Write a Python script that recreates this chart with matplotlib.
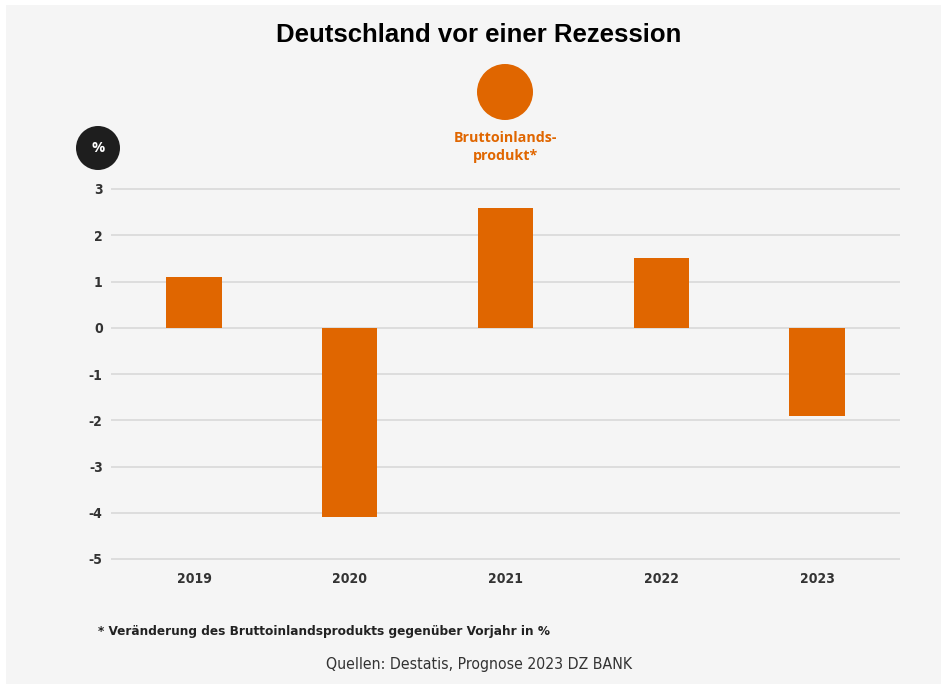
import matplotlib.pyplot as plt
from matplotlib.patches import Rectangle, Ellipse

years = ["2019", "2020", "2021", "2022", "2023"]
bip = [1.1, -4.1, 2.6, 1.5, -1.9]
yticks = [3, 2, 1, 0, -1, -2, -3, -4, -5]

orange = "#e06600"
bg = "#f5f5f5"
W, H = 941, 687
cond = dict(family="DejaVu Sans", fontstretch="condensed")

fig = plt.figure(figsize=(W / 100, H / 100), dpi=100)
fig.patch.set_facecolor("white")
fig.patches.append(Rectangle((6 / W, 3 / H), 1 - 6 / W, 679 / H,
                             transform=fig.transFigure, facecolor=bg, edgecolor="none", zorder=-5))

# axes: y=3 at px 189, y=-5 at px 559
pad = 0.05
unit = (559 - 189) / 8
top_px = 189 - pad * unit
bot_px = 559 + pad * unit
ax = fig.add_axes([111 / W, 1 - bot_px / H, (900 - 111) / W, (bot_px - top_px) / H])
ax.set_facecolor("none")
x = list(range(len(years)))
ax.bar(x, bip, width=0.355, color=orange, zorder=3)
ax.set_xlim(-0.533, 4.533)
ax.set_ylim(-5 - pad, 3 + pad)
ax.set_yticks(yticks)
ax.set_yticklabels([str(v) for v in yticks])
ax.set_xticks(x)
ax.set_xticklabels(years)
ax.grid(axis="y", color="#d9d9d9", linewidth=1.2, zorder=0)
ax.tick_params(length=0, labelsize=10, labelcolor="#333333")
ax.tick_params(axis="y", pad=6)
ax.tick_params(axis="x", pad=8)
for lab in ax.get_xticklabels() + ax.get_yticklabels():
    lab.set_fontweight("bold")
    lab.set_family("DejaVu Sans")
    lab.set_fontstretch("condensed")
for s in ax.spines.values():
    s.set_visible(False)

fig.text(479 / W, 1 - 35 / H, "Deutschland vor einer Rezession", ha="center", va="center",
         fontsize=18.5, fontweight="bold", family=["Liberation Sans", "DejaVu Sans"], color="#000000")

# legend marker
fig.patches.append(Ellipse((505 / W, 1 - 92 / H), 56 / W, 56 / H, transform=fig.transFigure,
                           facecolor=orange, edgecolor="none"))
fig.text(505 / W, 1 - 147 / H, "Bruttoinlands-\nprodukt*", ha="center", va="center",
         fontsize=10.3, fontweight="bold", color=orange, linespacing=1.4,
         family=["Open Sans", "DejaVu Sans"])

# unit badge
fig.patches.append(Ellipse((98 / W, 1 - 148 / H), 44 / W, 44 / H, transform=fig.transFigure,
                           facecolor="#1e1e1e", edgecolor="none"))
fig.text(98 / W, 1 - 148 / H, "%", ha="center", va="center", fontsize=10.5,
         fontweight="bold", color="white", family=["Open Sans", "DejaVu Sans"])

fig.text(98 / W, 1 - 631 / H, "* Veränderung des Bruttoinlandsprodukts gegenüber Vorjahr in %",
         ha="left", va="center", fontsize=9.7, fontweight="bold", color="#222222", **cond)
fig.text(479 / W, 1 - 665 / H, "Quellen: Destatis, Prognose 2023 DZ BANK", ha="center", va="center",
         fontsize=11.3, color="#333333", **cond)

fig.savefig("out.png", dpi=100, facecolor=fig.get_facecolor())
